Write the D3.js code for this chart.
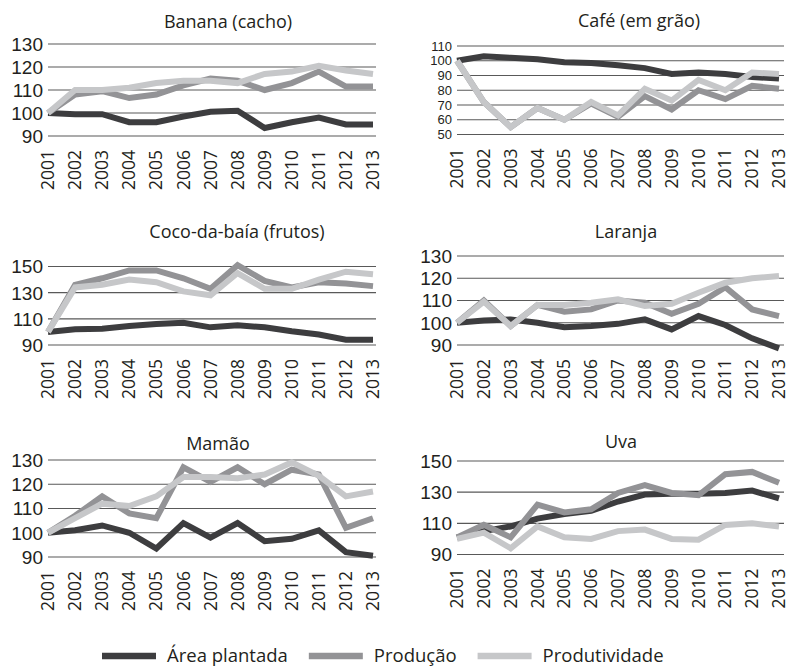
<!DOCTYPE html>
<html>
<head>
<meta charset="utf-8">
<script src="https://cdn.jsdelivr.net/npm/d3@7"></script>
<style>
    body { margin: 0; background: #fff; }
    text { font-family: "Open Sans", sans-serif; fill: #231f20; }
    .ytick { font-family: "Liberation Sans", Arial, sans-serif; }
</style>
</head>
<body>
<svg id="chart" width="791" height="669"></svg>
<script>
// ---- data (índice, 2001 = 100) ----
const years = ["2001", "2002", "2003", "2004", "2005", "2006", "2007", "2008", "2009", "2010", "2011", "2012", "2013"];
const seriesNames = ["Área plantada", "Produção", "Produtividade"];
const cropNames = ["Banana (cacho)", "Café (em grão)", "Coco-da-baía (frutos)", "Laranja", "Mamão", "Uva"];

const bananaArea = [100, 99.5, 99.5, 96, 96, 98.5, 100.5, 101, 93.5, 96, 98, 95, 95];
const bananaProducao = [100, 108, 109.5, 106.5, 108, 112, 115, 114, 110, 113, 118, 111.5, 111.5];
const bananaProdutividade = [100, 110, 110, 111, 113, 114, 114, 113, 117, 118, 120.5, 118.5, 117];
const bananaTicks = [90, 100, 110, 120, 130];

const cafeArea = [100, 103, 102, 101, 99, 98.5, 97, 95, 91, 92, 91, 89, 88];
const cafeProducao = [100, 72, 55, 68, 60, 71, 62, 76, 67, 80, 74, 83, 81];
const cafeProdutividade = [100, 72, 55, 68, 60, 72, 63, 81, 73, 87, 80, 92, 91];
const cafeTicks = [50, 60, 70, 80, 90, 100, 110];

const cocoArea = [100, 102, 102.5, 104.5, 106, 107, 103.5, 105, 103.5, 100.5, 98, 94, 94];
const cocoProducao = [100, 136, 141, 147, 147, 141, 133, 151, 139, 134, 138, 137, 135];
const cocoProdutividade = [100, 134, 136, 140, 138, 131, 128, 145, 133, 133, 140, 146, 144];
const cocoTicks = [90, 110, 130, 150];

const laranjaArea = [100, 101, 101.5, 100, 98, 98.5, 99.5, 101.5, 97, 103, 99, 93, 88.5];
const laranjaProducao = [100, 110, 98.5, 108, 105, 106, 110, 109, 104, 108.5, 116, 106, 103];
const laranjaProdutividade = [100, 109.5, 98.5, 108, 108, 109, 110.5, 107.5, 108.5, 113.5, 118, 120, 121];
const laranjaTicks = [90, 100, 110, 120, 130];

const mamaoArea = [100, 101, 103, 100, 93.5, 104, 98, 104, 96.5, 97.5, 101, 92, 90.5];
const mamaoProducao = [100, 107, 115, 108, 106, 127, 121, 127, 120, 126, 124, 102, 106];
const mamaoProdutividade = [100, 106, 112, 111, 115, 123, 123, 122.5, 124, 129, 123.5, 115, 117];
const mamaoTicks = [90, 100, 110, 120, 130];

const uvaArea = [101, 105, 108, 113, 116, 118, 124, 128.5, 129, 129, 129.5, 131, 126];
const uvaProducao = [101, 109, 101, 122, 117, 119, 129.5, 134.5, 129.5, 128, 141.5, 143, 136];
const uvaProdutividade = [100, 104, 94, 108, 101, 100, 105, 106, 100, 99.5, 109, 110, 108];
const uvaTicks = [90, 110, 130, 150];

// ---- layout ----
const colors = ["#3d3d3f", "#939396", "#c6c7c9"];
const columns = [
    { x0: 48, x1: 373, gridEnd: 376, labelX: 43 },
    { x0: 457, x1: 779, gridEnd: 784, labelX: 452 }
];
// Café packs 7 ticks into the same height, so its labels are smaller
const panelLayout = [
    { col: 0, top: 44, bottom: 136, titleX: 228, titleY: 28, tickSize: 19 },
    { col: 1, top: 46, bottom: 134.5, titleX: 639, titleY: 27, tickSize: 13 },
    { col: 0, top: 266.5, bottom: 345, titleX: 237, titleY: 238, tickSize: 19 },
    { col: 1, top: 256, bottom: 345, titleX: 626, titleY: 238, tickSize: 19 },
    { col: 0, top: 460, bottom: 557, titleX: 218, titleY: 450, tickSize: 19 },
    { col: 1, top: 461, bottom: 554.5, titleX: 621, titleY: 448, tickSize: 19 }
];

const panelSeries = [
    [bananaArea, bananaProducao, bananaProdutividade, bananaTicks],
    [cafeArea, cafeProducao, cafeProdutividade, cafeTicks],
    [cocoArea, cocoProducao, cocoProdutividade, cocoTicks],
    [laranjaArea, laranjaProducao, laranjaProdutividade, laranjaTicks],
    [mamaoArea, mamaoProducao, mamaoProdutividade, mamaoTicks],
    [uvaArea, uvaProducao, uvaProdutividade, uvaTicks]
];

const svg = d3.select("#chart");

cropNames.forEach((name, i) => {
    const lay = panelLayout[i];
    const col = columns[lay.col];
    const [area, prod, produt, ticks] = panelSeries[i];

    const x = d3.scalePoint().domain(years).range([col.x0, col.x1]);
    const y = d3.scaleLinear()
        .domain([d3.min(ticks), d3.max(ticks)])
        .range([lay.bottom, lay.top]);

    const g = svg.append("g").attr("class", "panel");

    g.append("text")
        .attr("x", lay.titleX)
        .attr("y", lay.titleY)
        .attr("text-anchor", "middle")
        .style("font-size", "18px")
        .text(name);

    // gridlines
    g.selectAll(".grid")
        .data(ticks)
        .join("line")
        .attr("class", "grid")
        .attr("x1", col.x0)
        .attr("x2", col.gridEnd)
        .attr("y1", d => y(d))
        .attr("y2", d => y(d))
        .attr("stroke", "#595959")
        .attr("stroke-width", 1.1);

    g.selectAll(".ytick")
        .data(ticks)
        .join("text")
        .attr("class", "ytick")
        .attr("x", col.labelX)
        .attr("y", d => y(d))
        .attr("dy", "0.36em")
        .attr("text-anchor", "end")
        .style("font-size", lay.tickSize + "px")
        .text(d => d);

    g.selectAll(".xtick")
        .data(years)
        .join("text")
        .attr("class", "xtick")
        .attr("transform", d => `translate(${x(d)},${lay.bottom + 14}) rotate(-90)`)
        .attr("dy", "0.35em")
        .attr("text-anchor", "end")
        .style("font-size", "17.5px")
        .text(d => d);

    const line = d3.line()
        .x((d, j) => x(years[j]))
        .y(d => y(d));

    g.selectAll(".series")
        .data([area, prod, produt])
        .join("path")
        .attr("class", "series")
        .attr("d", line)
        .attr("fill", "none")
        .attr("stroke", (d, k) => colors[k])
        .attr("stroke-width", 6)
        .attr("stroke-linejoin", "miter")
        .attr("stroke-miterlimit", 3);
});

// legend
const legend = svg.append("g").attr("class", "legend");
let lx = 102;
seriesNames.forEach((s, k) => {
    legend.append("line")
        .attr("x1", lx).attr("x2", lx + 54)
        .attr("y1", 656).attr("y2", 656)
        .attr("stroke", colors[k])
        .attr("stroke-width", 6.5);
    const t = legend.append("text")
        .attr("x", lx + 65)
        .attr("y", 662)
        .style("font-size", "18.5px")
        .text(s);
    lx += 65 + t.node().getComputedTextLength() + 21;
});
</script>
</body>
</html>
